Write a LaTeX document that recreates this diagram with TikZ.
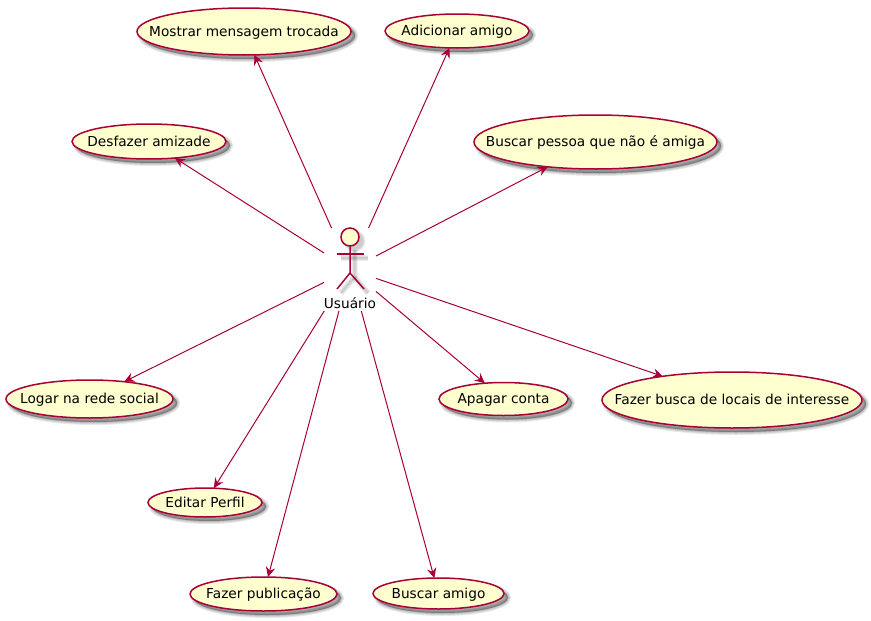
\documentclass[tikz,border=0pt]{standalone}
\usepackage{fontspec}
\setmainfont{DejaVu Sans}
\usetikzlibrary{shapes.geometric,arrows.meta}
\definecolor{pline}{HTML}{A80036}
\definecolor{pfill}{HTML}{FEFECE}
\newcommand{\ut}[1]{\makebox[0pt][c]{\smash{\raisebox{-0.36em}{#1}}}}
\tikzset{
  x=1pt,y=-1pt,
  softshadow/.style={preaction={draw=black,fill=black,line width=#1,draw opacity=.09,fill opacity=.09,transform canvas={shift={(4pt,-4pt)}}}},
  usecase/.style={ellipse,draw=pline,fill=pfill,line width=1.5pt,inner sep=0pt,outer sep=0pt,text=black,
    font=\fontsize{13.7}{15}\selectfont,softshadow=6pt,softshadow=4pt,softshadow=2pt,softshadow=.5pt},
  conn/.style={draw=pline,line width=1pt,-{Stealth[length=10pt,width=9.5pt,inset=3.5pt]}},
  stick/.style={draw=pline,line width=1.5pt},
  stickshadow/.style={draw=black,opacity=.07,line width=#1},
  actorbox/.style={rectangle,draw=none,inner sep=0pt,outer sep=0pt,minimum width=52pt,minimum height=83pt},
  actorlabel/.style={inner sep=0pt,text=black,font=\fontsize{13.7}{15}\selectfont}
}
\begin{document}
\begin{tikzpicture}
\useasboundingbox (0,0) rectangle (871,621);
\fill[white] (0,0) rectangle (871,621);
% actor shadow
\foreach \w in {6,4,2}{
  \draw[stickshadow=\w pt] (341,258) -- (368,258);
  \draw[stickshadow=\w pt] (354.5,250) -- (354.5,277) -- (341,293);
  \draw[stickshadow=\w pt] (354.5,277) -- (368,293);
  \fill[black,opacity=.07] (354.5,241) circle[radius={8+\w/2}];
}
% actor
\node[actorbox] (actor) at (350,269.5) {};
\draw[stick,fill=pfill] (350,237) circle[radius=9];
\draw[stick] (350,246) -- (350,273) -- (337,289);
\draw[stick] (350,273) -- (364,289);
\draw[stick] (337,254) -- (364,254);
\node[actorlabel] (actorname) at (350,303) {Usuário};
% use cases
\node[usecase,minimum width=214pt,minimum height=47pt] (mostrar) at (244,31.5) {\ut{Mostrar mensagem trocada}};
\node[usecase,minimum width=144pt,minimum height=34pt] (adicionar) at (457,31) {\ut{Adicionar amigo}};
\node[usecase,minimum width=154pt,minimum height=35pt] (desfazer) at (149,141.5) {\ut{Desfazer amizade}};
\node[usecase,minimum width=243pt,minimum height=54pt] (buscarpessoa) at (595.5,142) {\ut{Buscar pessoa que não é amiga}};
\node[usecase,minimum width=167pt,minimum height=38pt] (logar) at (89.5,399) {\ut{Logar na rede social}};
\node[usecase,minimum width=114pt,minimum height=29pt] (editar) at (205,502.5) {\ut{Editar Perfil}};
\node[usecase,minimum width=147pt,minimum height=34pt] (publicacao) at (263.5,594) {\ut{Fazer publicação}};
\node[usecase,minimum width=131pt,minimum height=31pt] (buscaramigo) at (438.5,593.5) {\ut{Buscar amigo}};
\node[usecase,minimum width=129pt,minimum height=33pt] (apagar) at (503.5,399) {\ut{Apagar conta}};
\node[usecase,minimum width=260pt,minimum height=56pt] (locais) at (732,400) {\ut{Fazer busca de locais de interesse}};
% connectors
\foreach \t in {mostrar,adicionar,desfazer,buscarpessoa,logar,editar,publicacao,buscaramigo,apagar,locais}
  \draw[conn] (actor) -- (\t);
\end{tikzpicture}
\end{document}
